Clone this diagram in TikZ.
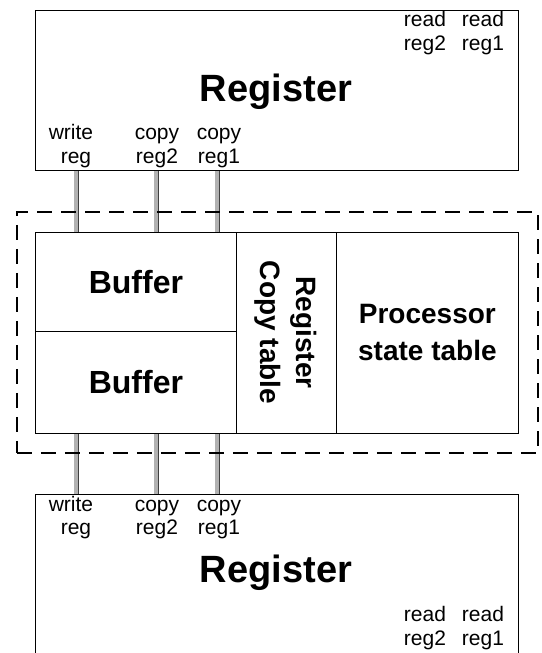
\documentclass[tikz,border=0pt]{standalone}
\usepackage{fontspec}
\setmainfont{Liberation Sans}
\tikzset{
  box/.style={draw, line width=0.8pt, inner sep=0pt, anchor=north west},
  cell/.style={draw, line width=0.8pt, inner sep=0pt, anchor=north west,
    font=\fontsize{32}{38}\selectfont\bfseries, align=center},
  lbl/.style={font=\fontsize{21}{24}\selectfont, inner sep=0pt, anchor=base},
  big/.style={font=\fontsize{38}{44}\selectfont\bfseries, inner sep=0pt, anchor=base},
  wire/.style={line width=0.7pt, draw=black!75, double=black!30, double distance=3.6pt},
  dashbox/.style={draw, line width=1.8pt, dash pattern=on 15pt off 9pt, inner sep=0pt, anchor=north west}
}
\begin{document}
\begin{tikzpicture}[x=1pt,y=-1pt]
\useasboundingbox (0,0) rectangle (541,653);

% top register
\node[box, minimum width=483pt, minimum height=160pt] (regtop) at (35,10) {};
\node[big] (regtoptitle) at (276,101) {Register};
\node[lbl] (trd2a) at (425,26) {read};
\node[lbl] (trd1a) at (483,26) {read};
\node[lbl] (trd2b) at (425,50) {reg2};
\node[lbl] (trd1b) at (483,50) {reg1};
\node[lbl] (twra) at (71,139) {write};
\node[lbl] (twrb) at (76,163) {reg};
\node[lbl] (tc2a) at (157,139) {copy};
\node[lbl] (tc2b) at (157,163) {reg2};
\node[lbl] (tc1a) at (219,139) {copy};
\node[lbl] (tc1b) at (219,163) {reg1};

% middle cells
\node[cell, minimum width=201pt, minimum height=99pt] (buf1) at (35,232) {Buffer};
\node[cell, minimum width=201pt, minimum height=102pt] (buf2) at (35,331) {Buffer};
\node[draw, line width=0.8pt, inner sep=0pt, rotate=-90, minimum width=201pt, minimum height=100pt,
      font=\fontsize{28}{36}\selectfont\bfseries, align=center] (rct) at (286,332.5) {Register\\Copy table};
\node[cell, minimum width=182pt, minimum height=201pt, font=\fontsize{28}{37}\selectfont\bfseries] (pst) at (336,232) {Processor\\state table};

% bottom register (bottom edge cut by the page)
\node[inner sep=0pt, anchor=north west, minimum width=483pt, minimum height=159pt] (regbot) at (35,494) {};
\draw[line width=0.8pt] (regbot.south west) -- (regbot.north west) -- (regbot.north east) -- (regbot.south east);
\draw[line width=0.8pt, black!45] (regbot.south west) -- ++(111,0);
\node[big] (regbottitle) at (276,582) {Register};
\node[lbl] (bwra) at (71,511) {write};
\node[lbl] (bwrb) at (76,534) {reg};
\node[lbl] (bc2a) at (157,511) {copy};
\node[lbl] (bc2b) at (157,534) {reg2};
\node[lbl] (bc1a) at (219,511) {copy};
\node[lbl] (bc1b) at (219,534) {reg1};
\node[lbl] (brd2a) at (425,621) {read};
\node[lbl] (brd1a) at (483,621) {read};
\node[lbl] (brd2b) at (425,645) {reg2};
\node[lbl] (brd1b) at (483,645) {reg1};

% wires
\coordinate (w1) at (76,0);
\coordinate (w2) at (156,0);
\coordinate (w3) at (217,0);
\foreach \w in {w1,w2,w3}{
  \draw[wire] (regtop.south -| \w) -- (buf1.north -| \w);
  \draw[wire] (buf2.south -| \w) -- (regbot.north -| \w);
}

% dashed enclosure
\node[dashbox, minimum width=521pt, minimum height=241pt] (group) at (16,211) {};
\end{tikzpicture}
\end{document}
